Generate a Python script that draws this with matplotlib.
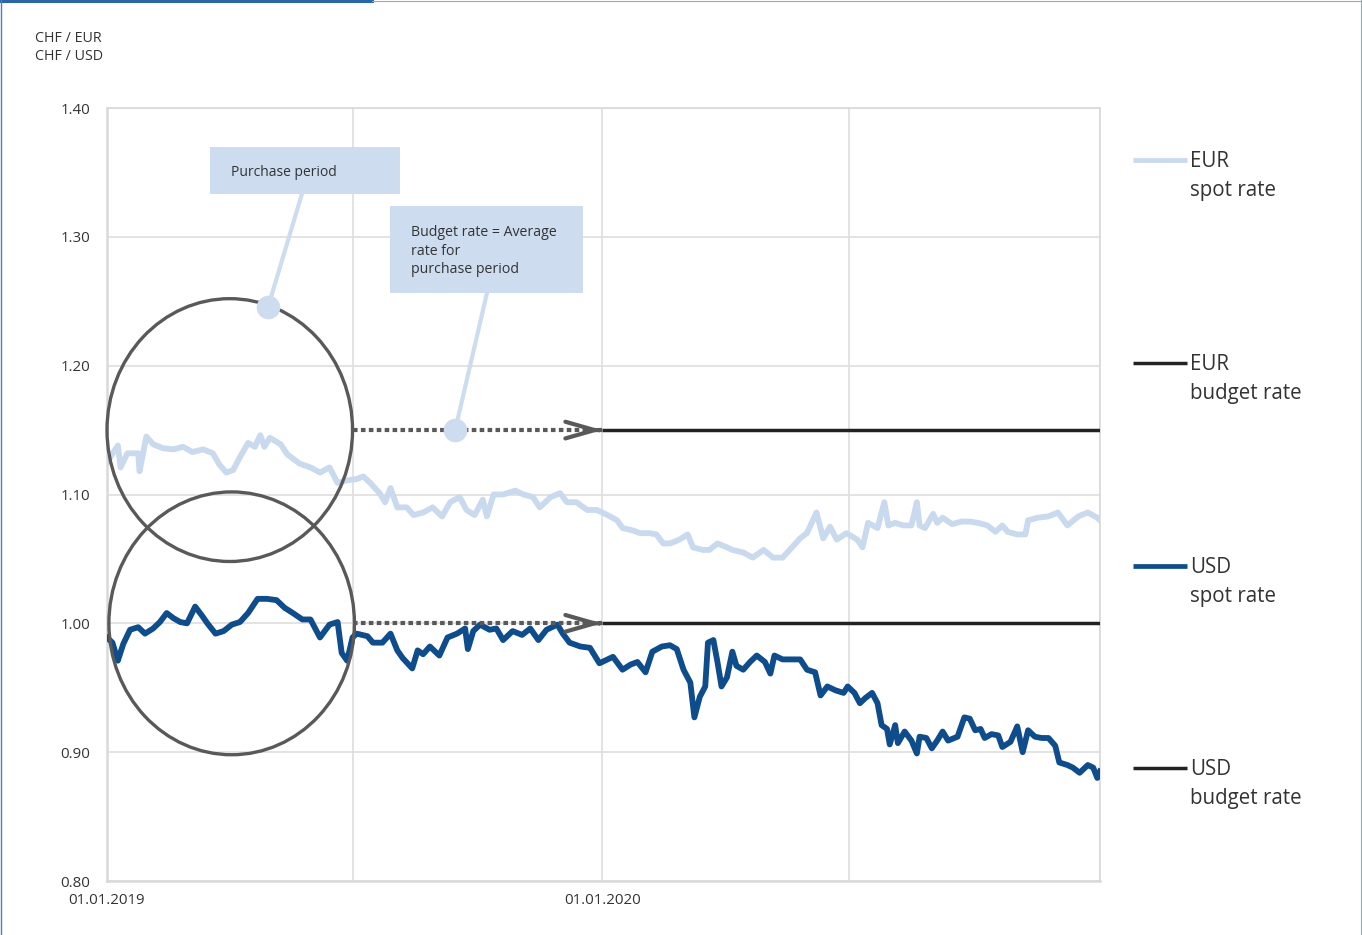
import matplotlib
matplotlib.use("Agg")
import matplotlib.pyplot as plt
import matplotlib.dates as mdates
from matplotlib.patches import Ellipse, Rectangle
from matplotlib.lines import Line2D
import pandas as pd

plt.rcParams['font.family'] = ['Open Sans', 'DejaVu Sans']

# --- data -----------------------------------------------------------------
START = pd.Timestamp('2019-01-01')

# CHF/EUR spot rate (days after 01.01.2019, rate)
eur_days = [0, 8, 10, 15, 23, 24, 29, 34, 41, 49, 56, 63, 71, 78, 83, 88, 93, 98,
            104, 109, 113, 116, 120, 128, 133, 142, 150, 157, 164, 170, 177, 184,
            189, 194, 201, 205, 209, 214, 221, 226, 233, 240, 247, 253, 260, 265,
            271, 277, 280, 285, 292, 301, 307, 314, 319, 327, 334, 339, 346, 354,
            361, 369, 376, 380, 388, 393, 400, 405, 410, 415, 422, 428, 432, 439,
            444, 450, 457, 461, 469, 476, 484, 491, 498, 505, 511, 516, 523, 528,
            533, 538, 545, 553, 557, 561, 568, 573, 576, 581, 587, 593, 597, 599,
            603, 609, 612, 616, 623, 630, 636, 642, 649, 655, 660, 664, 671, 677,
            679, 686, 694, 701, 708, 716, 723, 730, 732]
eur_spot = [1.125, 1.138, 1.121, 1.132, 1.132, 1.118, 1.145, 1.139, 1.136, 1.135,
            1.137, 1.133, 1.135, 1.132, 1.123, 1.117, 1.119, 1.129, 1.140, 1.137,
            1.146, 1.137, 1.144, 1.139, 1.131, 1.124, 1.121, 1.117, 1.121, 1.109,
            1.111, 1.112, 1.114, 1.109, 1.101, 1.094, 1.105, 1.090, 1.090, 1.084,
            1.086, 1.090, 1.083, 1.094, 1.098, 1.088, 1.084, 1.096, 1.083, 1.100,
            1.100, 1.103, 1.100, 1.098, 1.090, 1.098, 1.101, 1.094, 1.094, 1.088,
            1.088, 1.084, 1.080, 1.074, 1.072, 1.070, 1.070, 1.069, 1.062, 1.062,
            1.065, 1.069, 1.059, 1.057, 1.057, 1.062, 1.059, 1.057, 1.055, 1.051,
            1.057, 1.051, 1.051, 1.059, 1.066, 1.070, 1.086, 1.066, 1.075, 1.065,
            1.070, 1.065, 1.059, 1.078, 1.074, 1.094, 1.076, 1.078, 1.076, 1.076,
            1.094, 1.076, 1.074, 1.085, 1.078, 1.082, 1.077, 1.079, 1.079, 1.078,
            1.076, 1.071, 1.076, 1.071, 1.069, 1.069, 1.080, 1.082, 1.083, 1.086,
            1.076, 1.083, 1.086, 1.082, 1.080]

# CHF/USD spot rate (days after 01.01.2019, rate)
usd_days = [0, 4, 8, 12, 17, 23, 28, 34, 39, 44, 49, 54, 59, 65, 70, 74, 80, 86,
            92, 98, 104, 111, 118, 125, 131, 137, 144, 150, 157, 164, 170, 173,
            177, 181, 184, 192, 196, 203, 209, 214, 218, 225, 229, 233, 238, 245,
            251, 258, 264, 266, 270, 275, 282, 287, 292, 299, 306, 312, 318, 324,
            332, 336, 341, 349, 356, 363, 369, 373, 380, 386, 391, 397, 402, 409,
            415, 420, 425, 430, 433, 437, 441, 443, 447, 450, 453, 457, 461, 464,
            469, 474, 479, 485, 489, 492, 498, 505, 511, 516, 522, 526, 531, 537,
            543, 546, 551, 555, 559, 564, 568, 571, 575, 577, 581, 583, 588, 593,
            597, 599, 604, 608, 612, 616, 620, 627, 632, 636, 640, 644, 647, 652,
            657, 660, 666, 671, 675, 679, 684, 689, 694, 699, 702, 708, 712, 717,
            723, 727, 730, 732]
usd_spot = [0.989, 0.985, 0.971, 0.984, 0.995, 0.997, 0.992, 0.996, 1.001, 1.008,
            1.004, 1.001, 1.000, 1.013, 1.006, 1.000, 0.992, 0.994, 0.999, 1.001,
            1.008, 1.019, 1.019, 1.018, 1.012, 1.008, 1.003, 1.003, 0.989, 0.999,
            1.001, 0.977, 0.971, 0.989, 0.992, 0.990, 0.985, 0.985, 0.992, 0.979,
            0.973, 0.965, 0.979, 0.976, 0.982, 0.975, 0.989, 0.992, 0.996, 0.980,
            0.994, 0.999, 0.995, 0.996, 0.987, 0.994, 0.991, 0.996, 0.987, 0.995,
            0.999, 0.992, 0.985, 0.982, 0.981, 0.969, 0.972, 0.974, 0.964, 0.968,
            0.970, 0.962, 0.978, 0.982, 0.983, 0.980, 0.964, 0.954, 0.927, 0.943,
            0.951, 0.985, 0.987, 0.970, 0.951, 0.958, 0.978, 0.967, 0.964, 0.970,
            0.975, 0.970, 0.961, 0.975, 0.972, 0.972, 0.972, 0.964, 0.962, 0.944,
            0.951, 0.948, 0.946, 0.951, 0.946, 0.938, 0.942, 0.946, 0.938, 0.921,
            0.918, 0.906, 0.921, 0.907, 0.916, 0.909, 0.899, 0.912, 0.911, 0.903,
            0.909, 0.916, 0.909, 0.912, 0.927, 0.926, 0.917, 0.918, 0.911, 0.914,
            0.913, 0.904, 0.908, 0.920, 0.900, 0.917, 0.912, 0.911, 0.911, 0.905,
            0.892, 0.890, 0.888, 0.884, 0.890, 0.888, 0.880, 0.885]

eur_budget = 1.15
usd_budget = 1.00

purchase_start = pd.Timestamp('2019-01-01')
purchase_end = pd.Timestamp('2019-07-01')
budget_start = pd.Timestamp('2020-01-01')
period_end = pd.Timestamp('2021-01-02')

y_ticks = [0.80, 0.90, 1.00, 1.10, 1.20, 1.30, 1.40]
x_grid = ['2019-01-01', '2019-07-01', '2020-01-01', '2020-07-01', '2021-01-02']
x_labels = ['01.01.2019', '', '01.01.2020', '', '']

legend_entries = [('EUR', 'spot rate'), ('EUR', 'budget rate'),
                  ('USD', 'spot rate'), ('USD', 'budget rate')]

# --- styling --------------------------------------------------------------
C_EUR = '#c9d9ee'
C_USD = '#0f4c8c'
C_BUDGET = '#222222'
C_RING = '#595959'
C_NOTE = '#cddcef'
C_TEXT = '#333333'
C_GRID = '#dedede'

W, H = 1362, 935
fig = plt.figure(figsize=(W / 100, H / 100), dpi=100)
ax = fig.add_axes([107 / W, 1 - 881 / H, (1100 - 107) / W, (881 - 108) / H])

eur_dates = START + pd.to_timedelta(eur_days, unit='D')
usd_dates = START + pd.to_timedelta(usd_days, unit='D')

ax.plot(eur_dates, eur_spot, color=C_EUR, lw=4.2, solid_joinstyle='round', zorder=3)
ax.plot(usd_dates, usd_spot, color=C_USD, lw=4.2, solid_joinstyle='round', zorder=3)

ax.plot([budget_start, period_end], [eur_budget, eur_budget], color=C_BUDGET, lw=2.5,
        solid_capstyle='butt', zorder=4)
ax.plot([budget_start, period_end], [usd_budget, usd_budget], color=C_BUDGET, lw=2.5,
        solid_capstyle='butt', zorder=4)

# dotted carry-over from the purchase period to the budget year
for rate in (eur_budget, usd_budget):
    ax.plot([purchase_end, budget_start], [rate, rate], color=C_RING, lw=3.0,
            dashes=(1.1, 0.8), dash_capstyle='butt', zorder=4)
    ax.annotate('', xy=(budget_start, rate), xytext=(-2, 0), textcoords='offset points',
                arrowprops=dict(arrowstyle='->,head_length=2.1,head_width=0.6',
                                color=C_RING, lw=3.0, shrinkA=0, shrinkB=0,
                                mutation_scale=10), zorder=5)

# rings marking the purchase period
p0 = mdates.date2num(purchase_start)
p1 = mdates.date2num(purchase_end)
ring_w = p1 - p0
for cx_off, rate in ((0.0, eur_budget), (1.4, usd_budget)):
    ax.add_patch(Ellipse(((p0 + p1) / 2 + cx_off, rate), width=ring_w, height=0.204,
                         fill=False, ec=C_RING, lw=2.4, zorder=6, clip_on=False))

# call-out boxes
d0 = mdates.date2num(START)
ax.add_patch(Rectangle((d0 + 76, 1.3333), 140, 0.0364, fc=C_NOTE, ec='none',
                       zorder=7, clip_on=False))
ax.text(d0 + 91.5, 1.3497, 'Purchase period', fontsize=10, color=C_TEXT,
        va='center', ha='left', zorder=8)
ax.plot([d0 + 143.7, d0 + 118.7], [1.3333, 1.2455], color=C_NOTE, lw=3, zorder=7)
ax.plot([d0 + 118.7], [1.2455], 'o', ms=17, color=C_NOTE, mec='none', zorder=8)

ax.add_patch(Rectangle((d0 + 208.6, 1.2564), 142.3, 0.0676, fc=C_NOTE, ec='none',
                       zorder=7, clip_on=False))
for i, line in enumerate(['Budget rate = Average', 'rate for', 'purchase period']):
    ax.text(d0 + 224.1, 1.3030 - i * 0.01436, line, fontsize=10.2, color=C_TEXT,
            va='center', ha='left', zorder=8)
ax.plot([d0 + 280.1, d0 + 256.5], [1.2564, 1.1493], color=C_NOTE, lw=3, zorder=7)
ax.plot([d0 + 256.5], [eur_budget], 'o', ms=17, color=C_NOTE, mec='none', zorder=8)

# axes
ax.set_ylim(0.80, 1.40)
ax.set_xlim(START, period_end)
ax.set_yticks(y_ticks)
ax.set_yticklabels([f'{v:.2f}' for v in y_ticks])
ax.set_xticks(pd.to_datetime(x_grid))
ax.set_xticklabels(x_labels)
ax.tick_params(axis='both', length=0, labelsize=10.8, colors=C_TEXT)
ax.tick_params(axis='y', pad=12)
ax.tick_params(axis='x', pad=9)
ax.grid(True, color=C_GRID, lw=1.2, zorder=0)
ax.set_axisbelow(True)
for name, sp in ax.spines.items():
    sp.set_color('#d9d9d9')
    sp.set_linewidth(1.8 if name in ('left', 'bottom') else 1.2)

# unit labels
fig.text(35 / W, 1 - 38 / H, 'CHF / EUR', fontsize=10.3, color=C_TEXT, va='center')
fig.text(35 / W, 1 - 56 / H, 'CHF / USD', fontsize=10.3, color=C_TEXT, va='center')

# legend on the right
legend_y = [160, 363, 566, 768]
legend_col = [C_EUR, C_BUDGET, C_USD, C_BUDGET]
legend_lw = [3.4, 2.5, 3.4, 2.5]
for (cur, kind), ypx, col, lw in zip(legend_entries, legend_y, legend_col, legend_lw):
    fig.add_artist(Line2D([1133 / W, 1187 / W], [1 - ypx / H] * 2, color=col, lw=lw,
                          solid_capstyle='butt'))
    fig.text(1190 / W, 1 - (ypx + 1.5) / H, cur, fontsize=14.8, color=C_TEXT, va='center')
    fig.text(1190 / W, 1 - (ypx + 30.5) / H, kind, fontsize=14.8, color=C_TEXT,
             va='center')

# frame around the figure
fig.add_artist(Line2D([0, 372 / W], [1 - 1 / H] * 2, color='#2a65a8', lw=2.2))
fig.add_artist(Line2D([372 / W, 1], [1 - 0.5 / H] * 2, color='#9aa8b8', lw=0.8))
fig.add_artist(Line2D([0.5 / W] * 2, [0, 1], color='#4a7fc0', lw=1.0))
fig.add_artist(Line2D([1 - 1.5 / W] * 2, [0, 1], color='#9aa8b8', lw=0.8))

fig.savefig('out.png', dpi=100)
